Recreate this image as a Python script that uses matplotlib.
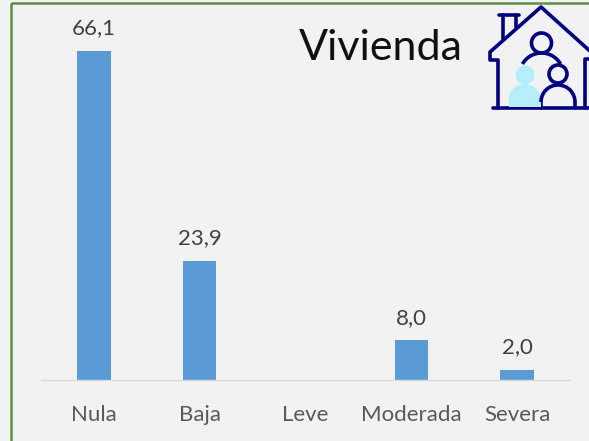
import matplotlib
matplotlib.use("Agg")
import matplotlib.pyplot as plt
from matplotlib.patches import Arc, Circle, Rectangle, Wedge

categorias = ["Nula", "Baja", "Leve", "Moderada", "Severa"]
valores = [66.1, 23.9, 0, 8.0, 2.0]
etiquetas = ["66,1", "23,9", "", "8,0", "2,0"]

ANCHO, ALTO = 589, 441
plt.rcParams['font.family'] = ['Lato', 'DejaVu Sans']

fig = plt.figure(figsize=(ANCHO / 100, ALTO / 100), dpi=100, facecolor='#f2f2f2')

# marco verde del grafico, abierto por abajo y a la derecha
fondo = fig.add_axes([0, 0, 1, 1])
fondo.set_xlim(0, ANCHO)
fondo.set_ylim(ALTO, 0)
fondo.axis('off')
fondo.add_patch(Rectangle((11, 3), 640, 480, fill=False, edgecolor='#5f8f45', linewidth=1.8))

# barras
ax = fig.add_axes([41 / ANCHO, (ALTO - 380) / ALTO, 529 / ANCHO, 330 / ALTO])
ax.patch.set_alpha(0)
ax.bar(categorias, valores, width=0.315, color='#5b9bd5')
ax.set_xlim(-0.5, 4.5)
ax.set_ylim(0, 66.3)
ax.set_yticks([])
for s in ['top', 'left', 'right']:
    ax.spines[s].set_visible(False)
ax.spines['bottom'].set_color('#d9d9d9')
ax.spines['bottom'].set_linewidth(1.0)
ax.tick_params(axis='x', length=0, pad=18, labelsize=16, labelcolor='#595959')
for i, (v, t) in enumerate(zip(valores, etiquetas)):
    if t:
        ax.annotate(t, (i, v), xytext=(0, 9), textcoords='offset points', ha='center',
                    va='bottom', fontsize=16, color='#404040')

fondo.text(380.5, 48, "Vivienda", ha='center', va='center', fontsize=31, color='#111111')

# icono de la casa
azul = '#000080'
celeste = '#b5eefb'
lw = 2.6


def linea(xs, ys):
    fondo.plot(xs, ys, color=azul, linewidth=lw, solid_capstyle='round', solid_joinstyle='round')


def arco(cx, cy, r, desde, hasta):
    fondo.add_patch(Arc((cx, cy), 2 * r, 2 * r, theta1=desde, theta2=hasta, edgecolor=azul, linewidth=lw, zorder=5))


linea([498, 498, 490, 490, 541, 591], [108, 60, 60, 52, 7, 52])
linea([585, 585, 591], [108, 59, 59])
linea([493, 591], [108, 108])
linea([499, 519], [15, 15])
linea([503, 503], [15, 39])
linea([516, 516], [15, 27])
# adulto
fondo.add_patch(Circle((541.5, 43), 10, fill=False, edgecolor=azul, linewidth=lw))
arco(541.5, 75, 22, 210, 330)
# nino celeste
fondo.add_patch(Circle((525, 75), 9.5, facecolor=celeste, edgecolor='none', zorder=3))
fondo.add_patch(Wedge((524.5, 100), 16, 180, 360, facecolor=celeste, edgecolor='none', zorder=3))
fondo.add_patch(Rectangle((508.5, 100), 32, 7, facecolor=celeste, edgecolor='none', zorder=3))
# nino azul
fondo.add_patch(Circle((558, 74), 9, facecolor='#f2f2f2', edgecolor=azul, linewidth=lw, zorder=6))
arco(558, 102, 17, 180, 360)
linea([541, 541], [102, 108])
linea([575, 575], [102, 108])

fig.savefig("out.png", dpi=100, facecolor=fig.get_facecolor())
